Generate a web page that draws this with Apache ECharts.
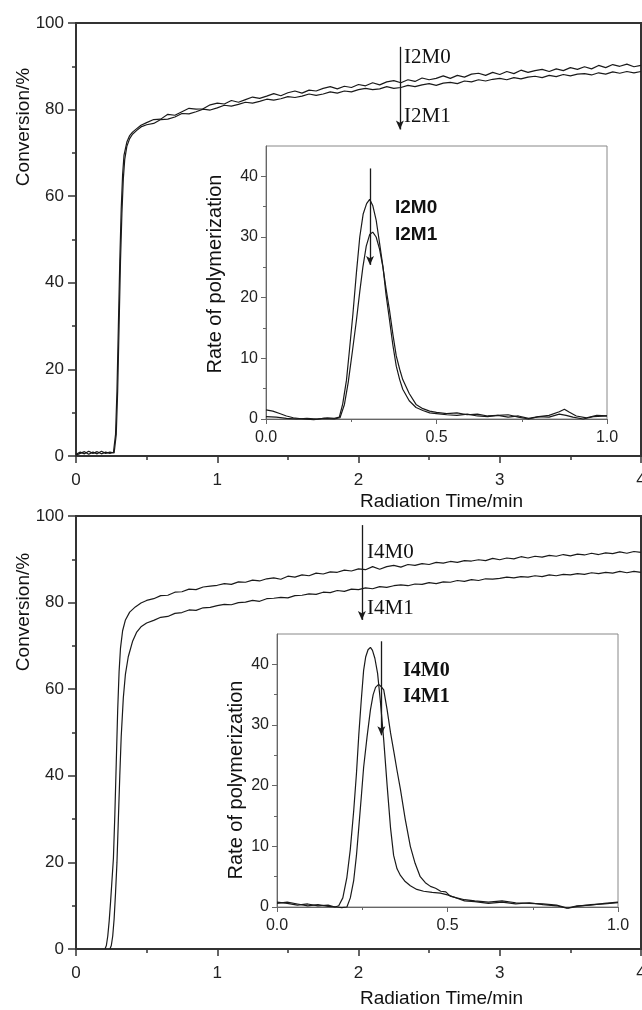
<html>
<head>
<meta charset="UTF-8">
<title>Conversion and rate of polymerization</title>
<script src="https://cdn.jsdelivr.net/npm/echarts@6/dist/echarts.min.js"></script>
<style>
  html, body { margin: 0; padding: 0; background: #fff; }
  #chart { width: 642px; height: 1010px; }
</style>
</head>
<body>
<div id="chart"></div>
<script>
// ---- data ----
// time axis (min) shared by the slow part of the conversion curves
var tailTime = [0.50,0.55,0.60,0.65,0.70,0.75,0.80,0.85,0.90,0.95,
  1.00,1.05,1.10,1.15,1.20,1.25,1.30,1.35,1.40,1.45,
  1.50,1.55,1.60,1.65,1.70,1.75,1.80,1.85,1.90,1.95,
  2.00,2.05,2.10,2.15,2.20,2.25,2.30,2.35,2.40,2.45,
  2.50,2.55,2.60,2.65,2.70,2.75,2.80,2.85,2.90,2.95,
  3.00,3.05,3.10,3.15,3.20,3.25,3.30,3.35,3.40,3.45,
  3.50,3.55,3.60,3.65,3.70,3.75,3.80,3.85,3.90,3.95,4.00];

// top panel, conversion %
var i2m0RiseTime = [0,0.03,0.06,0.09,0.12,0.15,0.18,0.21,0.24,0.265,0.28,0.29,0.30,0.31,0.32,0.33,0.34,0.36,0.38,0.40,0.43,0.46];
var i2m0Rise = [0.4,0.9,0.5,1.1,0.6,1.0,0.5,0.9,0.6,0.8,5,15,30,45,57,65,69.5,72.5,74,74.8,75.6,76.4];
var i2m0Tail = [77.0,77.7,77.8,78.9,78.7,79.5,80.3,80.1,80.2,81.1,
  81.5,81.3,82.1,81.7,82.3,82.9,82.6,83.1,83.7,83.2,
  83.9,84.3,83.8,84.5,84.3,84.9,85.3,84.8,85.4,85.1,
  85.8,85.5,86.2,85.7,86.4,86.7,86.2,86.9,86.5,87.3,
  86.9,87.2,87.8,87.2,87.9,87.5,88.2,88.4,87.9,88.6,
  88.1,88.8,88.3,89.1,88.6,89.0,89.3,88.8,89.4,89.0,
  89.7,89.3,89.9,89.4,90.2,89.7,90.4,90.0,90.5,89.9,90.2];

var i2m1RiseTime = [0,0.03,0.06,0.09,0.12,0.15,0.18,0.21,0.24,0.27,0.285,0.295,0.305,0.315,0.325,0.335,0.345,0.36,0.38,0.40,0.43,0.46];
var i2m1Rise = [0.2,0.6,1.0,0.4,0.9,0.5,1.1,0.6,0.9,0.7,5,15,30,45,56,64,68.5,71.5,73.3,74.3,75.2,76.0];
var i2m1Tail = [76.5,76.8,77.7,77.8,78.3,79.1,79.0,79.5,80.1,79.9,
  80.4,81.0,80.8,81.2,81.7,81.5,81.9,82.4,82.2,82.5,
  83.0,82.8,83.1,83.6,83.3,83.6,84.1,83.8,84.3,84.1,
  84.6,84.9,84.6,84.8,85.3,84.9,85.1,85.6,85.3,85.7,
  86.0,85.6,86.1,86.3,86.0,86.6,86.4,86.9,86.6,87.0,
  87.2,86.9,87.4,87.1,87.5,87.7,87.4,87.9,87.6,88.1,
  87.8,88.2,88.3,88.0,88.5,88.2,88.7,88.4,88.8,88.5,88.8];

// bottom panel, conversion %
var i4m0RiseTime = [0.205,0.215,0.225,0.235,0.245,0.255,0.265,0.275,0.285,0.295,0.305,0.315,0.33,0.35,0.38,0.42,0.46];
var i4m0Rise = [0,0.8,3,6.5,11,16,21,31,43,55,64,69.5,73.5,76,77.8,79,79.9];
var i4m0Tail = [80.5,80.9,81.6,81.7,82.4,82.5,83.1,83.0,83.6,83.8,
  84.0,84.4,84.2,84.8,84.7,85.2,85.0,85.5,85.7,85.4,
  86.1,85.9,86.4,86.2,86.8,86.6,87.1,87.0,87.5,87.3,
  87.8,87.6,88.3,87.7,88.3,88.6,88.2,88.8,88.6,89.0,
  88.8,89.3,89.1,89.5,89.3,89.7,89.6,89.9,89.7,90.2,
  89.9,90.3,90.1,90.6,90.3,90.7,90.5,90.9,90.7,91.1,
  90.8,91.2,91.0,91.4,91.1,91.5,91.3,91.7,91.4,91.8,91.6];

var i4m1RiseTime = [0.24,0.25,0.26,0.27,0.28,0.29,0.30,0.31,0.32,0.335,0.35,0.37,0.40,0.43,0.46];
var i4m1Rise = [0,0.8,3,7,13,20,30,40,49,58,63.5,67.5,71,73.2,74.4];
var i4m1Tail = [75.3,75.9,76.6,76.8,77.5,77.7,78.3,78.2,78.8,78.9,
  79.3,79.6,79.5,80.0,80.1,80.5,80.3,80.9,81.0,81.2,
  81.1,81.6,81.7,82.0,81.9,82.4,82.3,82.8,82.6,83.1,
  83.0,83.4,83.2,83.7,83.5,83.9,84.1,83.9,84.3,84.2,
  84.6,84.4,84.8,84.7,85.1,84.9,85.3,85.1,85.5,85.4,
  85.6,85.9,85.7,86.0,85.9,86.2,86.0,86.4,86.2,86.5,
  86.4,86.7,86.5,86.9,86.7,87.0,86.8,87.2,86.9,87.2,87.0];

// insets, rate of polymerization
var i2m0RateTime = [0,0.03,0.06,0.09,0.12,0.15,0.18,0.20,0.215,0.225,0.236,0.245,0.255,0.265,0.275,0.285,0.295,0.304,0.313,0.323,0.333,0.343,0.352,0.362,0.372,0.382,0.392,0.401,0.42,0.44,0.46,0.48,0.50,0.53,0.56,0.59,0.62,0.65,0.68,0.71,0.74,0.77,0.80,0.83,0.86,0.88,0.90,0.93,0.96,1.0];
var i2m0Rate = [0.4,0.3,0.1,0.0,0.1,0.0,0.2,0.1,0.3,2.5,6.4,11.5,17.4,24,30,33.8,35.5,36.2,35.2,32.8,29,25.1,20.5,16.4,12.2,8.7,6.5,4.9,3.0,1.9,1.4,1.0,0.9,0.7,0.6,0.8,0.5,0.4,0.6,0.3,0.5,0.1,0.4,0.3,0.8,0.6,0.3,0.0,0.4,0.5];
var i2m1RateTime = [0,0.02,0.04,0.06,0.08,0.11,0.14,0.17,0.20,0.217,0.23,0.241,0.253,0.265,0.275,0.284,0.294,0.304,0.313,0.323,0.333,0.343,0.352,0.362,0.372,0.382,0.392,0.401,0.42,0.44,0.46,0.48,0.50,0.53,0.56,0.59,0.62,0.65,0.68,0.71,0.74,0.77,0.80,0.83,0.86,0.875,0.89,0.91,0.94,0.97,1.0];
var i2m1Rate = [1.5,1.3,0.9,0.5,0.2,0.0,-0.1,0.1,0.0,0.2,2.4,6.0,11,16.2,21,25,28.5,30.4,30.8,30.0,28,25,21.5,18.0,14,10.4,8.2,6.5,4.2,2.4,1.7,1.3,1.1,0.9,1.0,0.7,0.8,0.5,0.6,0.7,0.3,0.0,0.4,0.6,1.2,1.6,1.1,0.5,0.2,0.6,0.5];

var i4m0RateTime = [0,0.03,0.06,0.09,0.12,0.15,0.17,0.181,0.193,0.205,0.215,0.225,0.233,0.24,0.247,0.254,0.26,0.267,0.274,0.28,0.287,0.295,0.303,0.313,0.323,0.333,0.342,0.352,0.362,0.376,0.391,0.41,0.43,0.455,0.479,0.50,0.52,0.55,0.58,0.62,0.66,0.70,0.74,0.78,0.82,0.85,0.88,0.92,0.96,1.0];
var i4m0Rate = [0.8,0.6,0.3,0.5,0.2,0.3,0.0,0.2,1.5,4.9,9.5,15.9,22,28.5,34,39,41.2,42.4,42.8,42.3,41,38.5,34,27.5,20,13,8.5,6.3,5.2,4.2,3.5,2.9,2.6,2.4,2.3,2.0,1.6,1.0,0.9,0.6,0.8,0.5,0.7,0.4,0.2,-0.2,0.2,0.3,0.6,0.8];
var i4m1RateTime = [0,0.03,0.06,0.09,0.12,0.15,0.175,0.19,0.205,0.215,0.225,0.233,0.24,0.247,0.254,0.264,0.274,0.282,0.289,0.298,0.306,0.313,0.323,0.333,0.343,0.352,0.362,0.376,0.391,0.405,0.42,0.435,0.45,0.465,0.48,0.495,0.508,0.527,0.55,0.58,0.62,0.66,0.70,0.74,0.78,0.82,0.854,0.88,0.92,0.96,1.0];
var i4m1Rate = [0.6,0.8,0.5,0.2,0.4,0.1,0.0,-0.1,0.0,1.5,4.4,8.5,13.2,18,23,28,32.5,35,36.2,36.7,36.3,35.8,32.5,28.7,25.5,22.5,19.4,14.5,10,7.2,5.0,4.0,3.4,3.1,2.6,2.5,1.8,1.5,1.2,1.0,0.8,1.0,0.7,0.6,0.5,0.3,-0.2,0.1,0.4,0.5,0.7];

// tick values
var rateTicks = [0, 10, 20, 30, 40];
var rateMinorTicks = [5, 15, 25, 35];

// arrows [time, from, to] in data units
var arrowTop = [2.293, 94.5, 75.4];
var arrowTopInset = [0.305, 41.3, 25.4];
var arrowBottom = [2.024, 97.9, 76.0];
var arrowBottomInset = [0.306, 43.8, 28.3];

function pairs(t, v) {
  var out = [];
  for (var i = 0; i < t.length; i++) out.push([t[i], v[i]]);
  return out;
}

var SANS = 'Liberation Sans, Arial, sans-serif';
var SERIF = 'Liberation Serif, Times New Roman, serif';
var INK = '#1a1a1a';

function mainX(gi) {
  return {
    type: 'value', gridIndex: gi, min: 0, max: 4, interval: 1,
    axisLine: { onZero: false, lineStyle: { color: '#333', width: 2 } },
    axisTick: { length: 7, lineStyle: { color: '#333', width: 1.5 } },
    minorTick: { show: true, splitNumber: 2, length: 4, lineStyle: { color: '#333', width: 1.5 } },
    splitLine: { show: false },
    axisLabel: { margin: 16, fontSize: 17, color: '#222', fontFamily: SANS }
  };
}
function mainY(gi) {
  return {
    type: 'value', gridIndex: gi, min: 0, max: 100, interval: 20,
    axisLine: { onZero: false, lineStyle: { color: '#333', width: 2 } },
    axisTick: { length: 8, lineStyle: { color: '#333', width: 1.5 } },
    minorTick: { show: true, splitNumber: 2, length: 4, lineStyle: { color: '#333', width: 1.5 } },
    splitLine: { show: false },
    axisLabel: { margin: 12, fontSize: 17, color: '#222', fontFamily: SANS }
  };
}
function insetX(gi) {
  return {
    type: 'value', gridIndex: gi, min: 0, max: 1, interval: 0.5,
    axisLine: { onZero: false, lineStyle: { color: '#666', width: 1 } },
    axisTick: { length: 5, lineStyle: { color: '#666' } },
    minorTick: { show: true, splitNumber: 2, length: 3, lineStyle: { color: '#666' } },
    splitLine: { show: false },
    axisLabel: { margin: 11, fontSize: 16, color: '#222', fontFamily: SANS,
      formatter: function (v) { return v.toFixed(1); } }
  };
}
function insetY(gi) {
  return {
    type: 'value', gridIndex: gi, min: 0, max: 45, interval: 10, position: 'left',
    axisLine: { onZero: false, lineStyle: { color: '#666', width: 1 } },
    axisTick: { length: 5, customValues: rateTicks, lineStyle: { color: '#666' } },
    splitLine: { show: false },
    axisLabel: { margin: 8, fontSize: 16, color: '#222', fontFamily: SANS, customValues: rateTicks }
  };
}
function insetYMinor(gi) {
  return {
    type: 'value', gridIndex: gi, min: 0, max: 45, position: 'left',
    axisLine: { show: false },
    axisTick: { length: 3, customValues: rateMinorTicks, lineStyle: { color: '#666' } },
    splitLine: { show: false },
    axisLabel: { show: false }
  };
}

function curve(name, xi, yi, data, arrow) {
  var s = {
    name: name, type: 'line', xAxisIndex: xi, yAxisIndex: yi,
    data: data, showSymbol: false, symbol: 'none', clip: false,
    lineStyle: { color: INK, width: 1.2 }, silent: true
  };
  if (arrow) {
    s.markLine = {
      silent: true, symbol: ['none', 'arrow'], symbolSize: [6, 9],
      label: { show: false },
      lineStyle: { color: INK, width: 1.3, type: 'solid' },
      data: [[{ coord: [arrow[0], arrow[1]] }, { coord: [arrow[0], arrow[2]] }]]
    };
  }
  return s;
}

function label(text, x, y, font, rot) {
  return {
    type: 'text', x: x, y: y, rotation: rot || 0, z: 100,
    style: { text: text, font: font, fill: '#111',
      align: rot ? 'center' : 'left', verticalAlign: 'middle' }
  };
}

var option = {
  animation: false,
  backgroundColor: '#fff',
  grid: [
    { left: 76, top: 23, width: 565, height: 433, outerBoundsMode: 'none', show: true, borderColor: '#333', borderWidth: 2 },
    { left: 266, top: 146, width: 341, height: 273, outerBoundsMode: 'none', show: true, borderColor: '#888', borderWidth: 1, backgroundColor: '#fff' },
    { left: 76, top: 516, width: 565, height: 433, outerBoundsMode: 'none', show: true, borderColor: '#333', borderWidth: 2 },
    { left: 277, top: 634, width: 341, height: 273, outerBoundsMode: 'none', show: true, borderColor: '#888', borderWidth: 1, backgroundColor: '#fff' }
  ],
  xAxis: [mainX(0), insetX(1), mainX(2), insetX(3)],
  yAxis: [mainY(0), insetY(1), insetYMinor(1), mainY(2), insetY(3), insetYMinor(3)],
  series: [
    curve('I2M0', 0, 0, pairs(i2m0RiseTime.concat(tailTime), i2m0Rise.concat(i2m0Tail)), arrowTop),
    curve('I2M1', 0, 0, pairs(i2m1RiseTime.concat(tailTime), i2m1Rise.concat(i2m1Tail))),
    curve('I2M0 rate', 1, 1, pairs(i2m0RateTime, i2m0Rate), arrowTopInset),
    curve('I2M1 rate', 1, 1, pairs(i2m1RateTime, i2m1Rate)),
    curve('I4M0', 2, 3, pairs(i4m0RiseTime.concat(tailTime), i4m0Rise.concat(i4m0Tail)), arrowBottom),
    curve('I4M1', 2, 3, pairs(i4m1RiseTime.concat(tailTime), i4m1Rise.concat(i4m1Tail))),
    curve('I4M0 rate', 3, 4, pairs(i4m0RateTime, i4m0Rate), arrowBottomInset),
    curve('I4M1 rate', 3, 4, pairs(i4m1RateTime, i4m1Rate))
  ],
  graphic: [
    label('Conversion/%', 24, 127, '19px ' + SANS, Math.PI / 2),
    label('Conversion/%', 24, 612, '19px ' + SANS, Math.PI / 2),
    label('Radiation Time/min', 360, 502, '19px ' + SANS),
    label('Radiation Time/min', 360, 999, '19px ' + SANS),
    label('Rate of polymerization', 215, 274, '20px ' + SANS, Math.PI / 2),
    label('Rate of polymerization', 236, 780, '20px ' + SANS, Math.PI / 2),
    label('I2M0', 404, 57, '21px ' + SERIF),
    label('I2M1', 404, 116, '21px ' + SERIF),
    label('I2M0', 395, 208, 'bold 19px ' + SANS),
    label('I2M1', 395, 235, 'bold 19px ' + SANS),
    label('I4M0', 367, 552, '21px ' + SERIF),
    label('I4M1', 367, 608, '21px ' + SERIF),
    label('I4M0', 403, 671, 'bold 20px ' + SERIF),
    label('I4M1', 403, 697, 'bold 20px ' + SERIF)
  ]
};

var chart = echarts.init(document.getElementById('chart'), null, { renderer: 'canvas' });
chart.setOption(option);
</script>
</body>
</html>
